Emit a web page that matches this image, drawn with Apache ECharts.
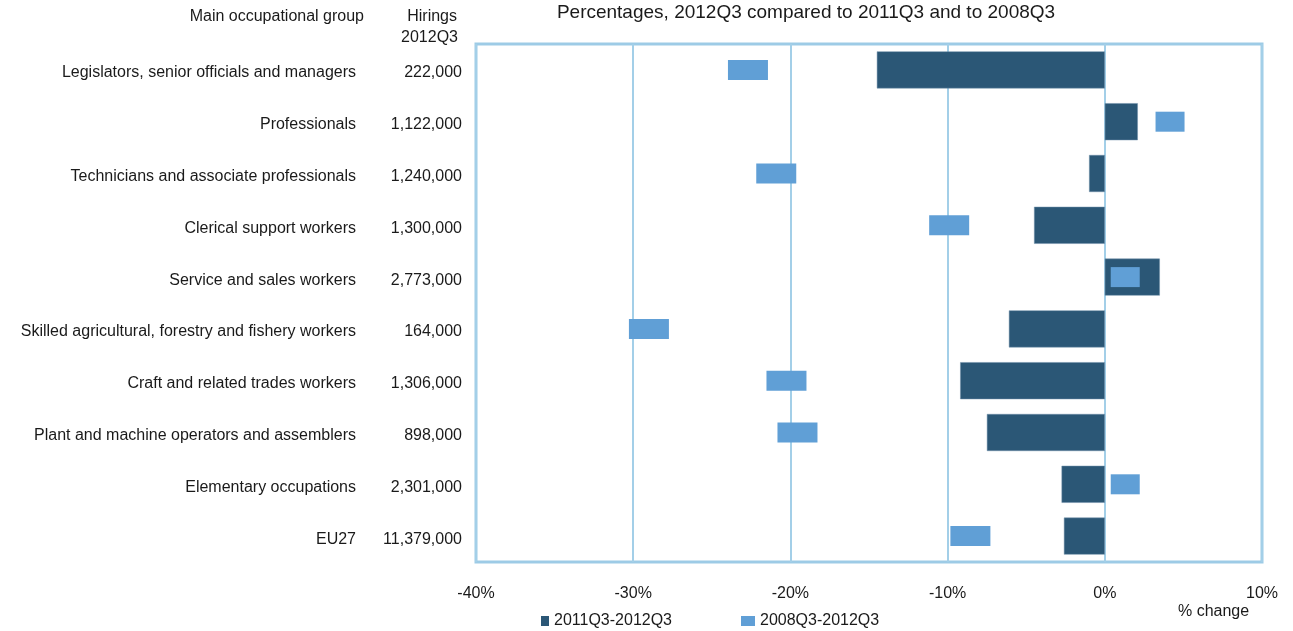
<html>
<head>
    <meta charset="utf-8">
    <title>Hirings by occupational group</title>
    <script src="https://cdn.jsdelivr.net/npm/echarts@6/dist/echarts.min.js"></script>
    <style>
        html, body { margin: 0; padding: 0; background: #fff; }
        #chart { width: 1293px; height: 631px; }
    </style>
</head>
<body>
<div id="chart"></div>
<script>
    // occupational groups, top to bottom
    var categories = [
        'Legislators, senior officials and managers',
        'Professionals',
        'Technicians and associate professionals',
        'Clerical support workers',
        'Service and sales workers',
        'Skilled agricultural, forestry and fishery workers',
        'Craft and related trades workers',
        'Plant and machine operators and assemblers',
        'Elementary occupations',
        'EU27'
    ];
    // hirings in 2012Q3
    var hirings = ['222,000', '1,122,000', '1,240,000', '1,300,000', '2,773,000',
        '164,000', '1,306,000', '898,000', '2,301,000', '11,379,000'];
    // % change 2011Q3-2012Q3
    var change2011 = [-14.5, 2.1, -1.0, -4.5, 3.5, -6.1, -9.2, -7.5, -2.75, -2.6];
    // % change 2008Q3-2012Q3
    var change2008 = [-22.7, 4.15, -20.9, -9.9, 1.3, -29.0, -20.25, -19.55, 1.3, -8.55];
    var xTicks = { min: -40, max: 10, step: 10 };

    var font = 'Liberation Sans, Arial, sans-serif';
    var txt = '#1a1a1a';
    var blue = '#a3cfe8';
    // labels sit a little below the band centre in the original
    var lblRich = { a: { padding: [6, 0, 0, 0], fontFamily: font, fontSize: 16, color: txt } };

    var chart = echarts.init(document.getElementById('chart'));
    var option = {
        animation: false,
        textStyle: { fontFamily: font },
        grid: {
            left: 476, right: 31, top: 44, bottom: 69,
            show: true, borderColor: '#9dcbe6', borderWidth: 3
        },
        legend: [{
            left: 536, top: 608,
            itemWidth: 8, itemHeight: 10,
            icon: 'rect',
            itemStyle: { borderWidth: 0 },
            data: ['2011Q3-2012Q3'],
            textStyle: { fontFamily: font, fontSize: 16, color: txt }
        }, {
            left: 736, top: 608,
            itemWidth: 14, itemHeight: 10,
            icon: 'rect',
            itemStyle: { borderWidth: 0 },
            data: ['2008Q3-2012Q3'],
            textStyle: { fontFamily: font, fontSize: 16, color: txt }
        }],
        xAxis: {
            type: 'value',
            min: xTicks.min, max: xTicks.max, interval: xTicks.step,
            axisLine: { show: false },
            axisTick: { show: false },
            splitLine: { lineStyle: { color: blue, width: 2 } },
            axisLabel: {
                formatter: '{value}%', margin: 24,
                fontFamily: font, fontSize: 16, color: txt
            }
        },
        yAxis: [{
            type: 'category',
            inverse: true,
            data: categories,
            axisLine: { show: false },
            axisTick: { show: false },
            axisLabel: {
                margin: 14, rich: lblRich,
                formatter: function (v, i) { return '{a|' + hirings[i] + '}'; }
            }
        }, {
            type: 'category',
            inverse: true,
            position: 'left',
            offset: 106,
            data: categories,
            axisLine: { show: false },
            axisTick: { show: false },
            axisLabel: {
                margin: 14, rich: lblRich,
                formatter: function (v) { return '{a|' + v + '}'; }
            }
        }],
        series: [{
            name: '2011Q3-2012Q3',
            type: 'bar',
            barWidth: 37,
            itemStyle: { color: '#2b5776', borderColor: '#6f8fa8', borderWidth: 0.5 },
            data: change2011
        }, {
            name: '2008Q3-2012Q3',
            type: 'scatter',
            symbol: 'rect',
            symbolSize: function (val) { return val[0] > 0 ? [29, 20] : [40, 20]; },
            itemStyle: { color: '#609fd6', opacity: 1 },
            z: 5,
            data: change2008.map(function (v, i) { return [v, categories[i]]; })
        }],
        graphic: [
            { type: 'text', x: 806, y: 13, style: { text: 'Percentages, 2012Q3 compared to 2011Q3 and to 2008Q3',
                font: '19px ' + font, fill: txt, align: 'center', verticalAlign: 'middle' } },
            { type: 'text', x: 364, y: 17, style: { text: 'Main occupational group',
                font: '16px ' + font, fill: txt, align: 'right', verticalAlign: 'middle' } },
            { type: 'text', x: 457, y: 17, style: { text: 'Hirings',
                font: '16px ' + font, fill: txt, align: 'right', verticalAlign: 'middle' } },
            { type: 'text', x: 458, y: 38, style: { text: '2012Q3',
                font: '16px ' + font, fill: txt, align: 'right', verticalAlign: 'middle' } },
            { type: 'text', x: 1178, y: 612, style: { text: '% change',
                font: '16px ' + font, fill: txt, align: 'left', verticalAlign: 'middle' } }
        ]
    };
    chart.setOption(option);
</script>
</body>
</html>
